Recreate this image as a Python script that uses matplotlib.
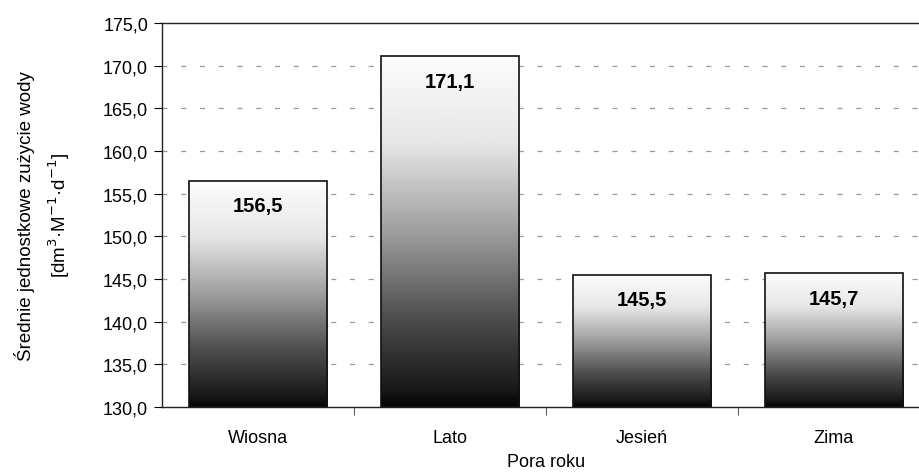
import matplotlib
matplotlib.use("Agg")
import matplotlib.pyplot as plt
import numpy as np

plt.rcParams['font.family'] = ['Liberation Sans', 'DejaVu Sans']

# dane
pory = ['Wiosna', 'Lato', 'Jesień', 'Zima']
zuzycie = [156.5, 171.1, 145.5, 145.7]
etykiety = ['156,5', '171,1', '145,5', '145,7']
y_ticks = [130, 135, 140, 145, 150, 155, 160, 165, 170, 175]

fig = plt.figure(figsize=(9.19, 4.77), dpi=100)
ax = fig.add_axes([162/919, 69/477, 768/919, 384/477])

ymin, ymax = 130, 175
x = np.arange(len(pory))
w = 0.72

# gradient: bialy u gory, czarny na dole
t = np.linspace(0, 1, 256)
g = np.interp(t, [0, 0.05, 0.25, 0.5, 0.75, 1], [0.02, 0.1, 0.3, 0.62, 0.9, 0.99])
grad = np.vstack([g, g]).T[::-1]

bars = ax.bar(x, np.array(zuzycie) - ymin, bottom=ymin, width=w,
              color='none', edgecolor='#111111', linewidth=1.2, zorder=3)
for b, v, lab in zip(bars, zuzycie, etykiety):
    x0 = b.get_x()
    im = ax.imshow(grad, extent=[x0, x0 + w, ymin, v], aspect='auto',
                   cmap='gray', vmin=0, vmax=1, origin='upper', zorder=2)
    im.set_clip_path(b)
    ax.annotate(lab, (b.get_x() + w / 2, v), xytext=(0, -18),
                textcoords='offset points', ha='center', va='center',
                fontsize=14.5, fontweight='bold', zorder=4)

ax.set_xlim(-0.5, len(pory) - 0.5)
ax.set_ylim(ymin, ymax)
ax.set_yticks(y_ticks)
ax.set_yticklabels([f'{t:.1f}'.replace('.', ',') for t in y_ticks], fontsize=13)
for tk in y_ticks[1:-1]:
    ax.axhline(tk, color='#999999', linewidth=0.9, linestyle=(0, (4, 11)), zorder=1)

ax.set_xticks(x)
ax.set_xticklabels(pory, fontsize=13)
ax.tick_params(axis='x', length=0, pad=16)
ax.set_xticks(np.arange(0.5, len(pory) - 0.5, 1), minor=True)
ax.tick_params(axis='x', which='minor', length=6, direction='out', color='#333333')
ax.tick_params(axis='y', length=6, direction='out', pad=4)

ax.spines['right'].set_visible(False)
for s in ['left', 'bottom', 'top']:
    ax.spines[s].set_color('#222222')
    ax.spines[s].set_linewidth(1.0)

ax.set_xlabel('Pora roku', fontsize=13, labelpad=5)
ax.set_ylabel('Średnie jednostkowe zużycie wody\n[dm$^{3}$·M$^{-1}$·d$^{-1}$]',
              fontsize=13.5, labelpad=22, linespacing=1.6)

fig.savefig('out.png', dpi=100)
